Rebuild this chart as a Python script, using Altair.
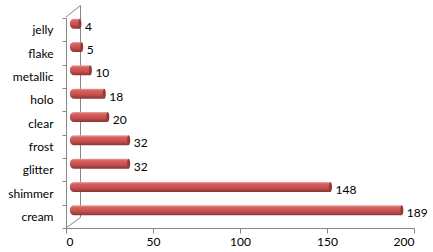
import altair as alt
import pandas as pd

categories = ["jelly", "flake", "metallic", "holo", "clear", "frost", "glitter", "shimmer", "cream"]
values = [4, 5, 10, 18, 20, 32, 32, 148, 189]
x_ticks = [0, 50, 100, 150, 200]

df = pd.DataFrame({"cat": categories, "val": values})

FONT = "Lato"
GREY = "#868686"
W, H = 348, 210

xs = alt.Scale(domain=[0, 200], nice=False, zero=True)
ys = alt.Scale(domain=categories, paddingInner=0, paddingOuter=0)

base = alt.Chart(df)

grad = alt.Gradient(
    gradient="linear", x1=0, x2=0, y1=0, y2=1,
    stops=[
        alt.GradientStop(offset=0, color="#e6a3a1"),
        alt.GradientStop(offset=0.2, color="#d9625f"),
        alt.GradientStop(offset=0.6, color="#c4504d"),
        alt.GradientStop(offset=1, color="#8a3533"),
    ],
)

bars = base.mark_bar(
    height=10, yOffset=-6, xOffset=7, x2Offset=4, color=grad,
    cornerRadiusTopLeft=4, cornerRadiusBottomLeft=4,
).encode(
    x=alt.X("val:Q", scale=xs, axis=alt.Axis(
        values=x_ticks, title=None, grid=False, domainColor=GREY, tickColor=GREY,
        tickSize=5, labelFont=FONT, labelFontSize=12, labelColor="#000000",
        labelPadding=3, domainWidth=1,
    )),
    x2=alt.datum(0),
    y=alt.Y("cat:N", scale=ys, sort=categories, axis=alt.Axis(
        title=None, domainColor=GREY, tickColor=GREY, tickSize=4, tickBand="extent",
        labelFont=FONT, labelFontSize=12, labelColor="#000000", labelPadding=9,
    )),
)

ellipse = "M0,-1 A0.3,1 0 1,1 0,1 A0.3,1 0 1,1 0,-1 Z"
caps = base.mark_point(
    shape=ellipse, size=100, filled=True, color="#953a38", opacity=1,
    xOffset=7, yOffset=-6, strokeWidth=0,
).encode(
    x=alt.X("val:Q", scale=xs),
    y=alt.Y("cat:N", scale=ys, sort=categories),
)

labels = base.mark_text(
    align="left", baseline="middle", dx=12, dy=-3, font=FONT, fontSize=12, color="#000000",
).encode(
    x=alt.X("val:Q", scale=xs),
    y=alt.Y("cat:N", scale=ys, sort=categories),
    text="val:Q",
)

frame_src = alt.Chart(pd.DataFrame({"a": [0]}))
back_wall = frame_src.mark_rule(color=GREY, strokeWidth=1).encode(
    x=alt.value(14.5), x2=alt.value(14.5), y=alt.value(-12.5), y2=alt.value(199.5)
)
top_diag = frame_src.mark_rule(color=GREY, strokeWidth=1).encode(
    x=alt.value(0), x2=alt.value(14.5), y=alt.value(-1), y2=alt.value(-12.5)
)
bot_diag = frame_src.mark_rule(color=GREY, strokeWidth=1).encode(
    x=alt.value(0), x2=alt.value(14.5), y=alt.value(H), y2=alt.value(199.5)
)

chart = alt.layer(back_wall, top_diag, bot_diag, bars, caps, labels).properties(
    width=W, height=H,
    autosize=alt.AutoSizeParams(type="none"),
    padding={"left": 66, "top": 18, "right": 19, "bottom": 24},
    background="#ffffff",
).configure_view(stroke=None)

chart.save("out.html", embed_options={"renderer": "svg", "actions": False})
